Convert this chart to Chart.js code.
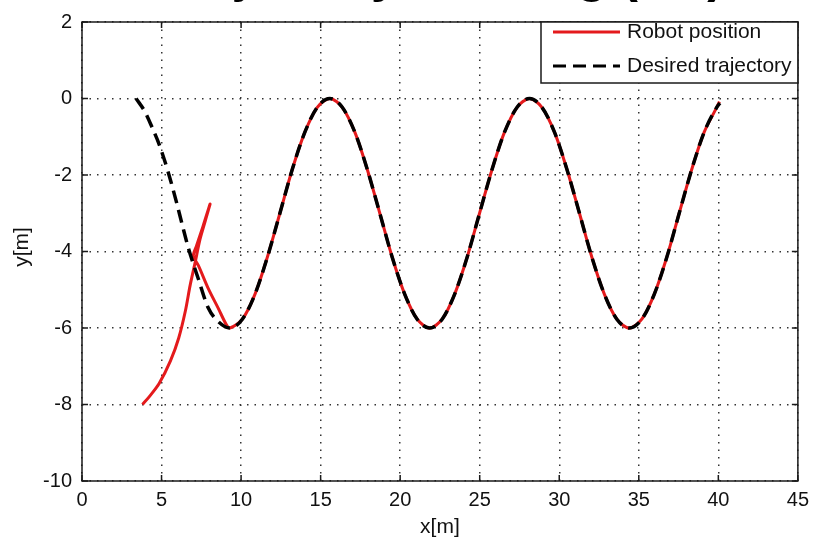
<!DOCTYPE html>
<html>
<head>
<meta charset="utf-8">
<script src="https://cdn.jsdelivr.net/npm/chart.js@4"></script>
<style>
  body { margin: 0; background: #fff; }
</style>
</head>
<body>
<canvas id="chart" width="816" height="540"></canvas>
<script>
const titleText = 'Trajectory tracking (PD)';
const xTicks = [0, 5, 10, 15, 20, 25, 30, 35, 40, 45];
const yTicks = [-10, -8, -6, -4, -2, 0, 2];

// desired trajectory (black dashed)
const desiredX = [3.4, 3.95, 4.42, 4.85, 5.4, 5.9, 6.3, 6.7, 7.3, 7.94, 8.56, 9.3,
  10.08, 10.87, 11.65, 12.44, 13.22, 14.01, 14.79, 15.58, 16.36, 17.15, 17.93, 18.72,
  19.5, 20.29, 21.07, 21.85, 22.64, 23.42, 24.21, 24.99, 25.78, 26.56, 27.35, 28.13,
  28.91, 29.7, 30.48, 31.27, 32.05, 32.84, 33.62, 34.4, 35.19, 35.97, 36.76, 37.54,
  38.33, 39.11, 39.9, 40.1];
const desiredY = [0, -0.34, -0.77, -1.2, -1.9, -2.65, -3.3, -3.93, -4.7, -5.48, -5.83, -6,
  -5.77, -5.12, -4.15, -3, -1.85, -0.88, -0.23, 0, -0.23, -0.88, -1.85, -3,
  -4.15, -5.12, -5.77, -6, -5.77, -5.12, -4.15, -3, -1.85, -0.88, -0.23, 0,
  -0.23, -0.88, -1.85, -3, -4.15, -5.12, -5.77, -6, -5.77, -5.12, -4.15, -3,
  -1.85, -0.88, -0.23, -0.12];

// robot position (red solid)
const robotX = [3.8, 4.22, 4.84, 5.56, 6.08, 6.49, 6.8, 7.11, 7.42, 7.75, 8.05, 7.6,
  7.2, 7.0, 7.32, 7.94, 8.56, 9.07, 9.3,
  10.08, 10.87, 11.65, 12.44, 13.22, 14.01, 14.79, 15.58, 16.36, 17.15, 17.93, 18.72,
  19.5, 20.29, 21.07, 21.85, 22.64, 23.42, 24.21, 24.99, 25.78, 26.56, 27.35, 28.13,
  28.91, 29.7, 30.48, 31.27, 32.05, 32.84, 33.62, 34.4, 35.19, 35.97, 36.76, 37.54,
  38.33, 39.11, 39.9, 40.07];
const robotY = [-8.0, -7.8, -7.46, -6.86, -6.26, -5.57, -4.88, -4.29, -3.68, -3.2, -2.76, -3.35,
  -3.85, -4.12, -4.37, -4.97, -5.48, -5.91, -6.0,
  -5.77, -5.12, -4.15, -3, -1.85, -0.88, -0.23, 0, -0.23, -0.88, -1.85, -3,
  -4.15, -5.12, -5.77, -6, -5.77, -5.12, -4.15, -3, -1.85, -0.88, -0.23, 0,
  -0.23, -0.88, -1.85, -3, -4.15, -5.12, -5.77, -6, -5.77, -5.12, -4.15, -3,
  -1.85, -0.88, -0.23, -0.08];

const FONT = 'Liberation Sans, Arial, sans-serif';

function toPoints(xs, ys) {
  return xs.map((x, i) => ({ x: x, y: ys[i] }));
}

// matlab style box, inward ticks, legend and labels
const matlabAxes = {
  id: 'matlabAxes',
  afterDatasetsDraw(chart) {
    const ctx = chart.ctx;
    const a = chart.chartArea;
    const xs = chart.scales.x;
    const ys = chart.scales.y;
    const len = 6;
    ctx.save();
    ctx.strokeStyle = '#1a1a1a';
    ctx.lineWidth = 1.5;
    ctx.strokeRect(a.left, a.top, a.right - a.left, a.bottom - a.top);
    ctx.beginPath();
    xTicks.forEach(v => {
      const px = xs.getPixelForValue(v);
      ctx.moveTo(px, a.bottom); ctx.lineTo(px, a.bottom - len);
      ctx.moveTo(px, a.top); ctx.lineTo(px, a.top + len);
    });
    yTicks.forEach(v => {
      const py = ys.getPixelForValue(v);
      ctx.moveTo(a.left, py); ctx.lineTo(a.left + len, py);
      ctx.moveTo(a.right, py); ctx.lineTo(a.right - len, py);
    });
    ctx.stroke();
    ctx.restore();
  },
  afterDraw(chart) {
    const ctx = chart.ctx;
    const a = chart.chartArea;
    ctx.save();

    // legend box in the top right corner
    const boxL = 541, boxT = a.top, boxR = a.right, boxB = 83;
    ctx.fillStyle = '#fff';
    ctx.fillRect(boxL, boxT, boxR - boxL, boxB - boxT);
    ctx.strokeStyle = '#1a1a1a';
    ctx.lineWidth = 1.5;
    ctx.strokeRect(boxL, boxT, boxR - boxL, boxB - boxT);

    const rows = [32, 66];
    chart.data.datasets.forEach((ds, i) => {
      const y = rows[i];
      ctx.beginPath();
      ctx.strokeStyle = ds.borderColor;
      ctx.lineWidth = 3;
      ctx.setLineDash(ds.borderDash || []);
      ctx.moveTo(553, y);
      ctx.lineTo(620, y);
      ctx.stroke();
      ctx.setLineDash([]);
      ctx.fillStyle = '#111';
      ctx.font = '21px ' + FONT;
      ctx.textAlign = 'left';
      ctx.textBaseline = 'middle';
      ctx.fillText(ds.label, 627, y);
    });

    // axis labels
    ctx.fillStyle = '#111';
    ctx.font = '21px ' + FONT;
    ctx.textAlign = 'center';
    ctx.textBaseline = 'middle';
    ctx.fillText('x[m]', (a.left + a.right) / 2, 527);
    ctx.translate(22, 247);
    ctx.rotate(-Math.PI / 2);
    ctx.fillText('y[m]', 0, 0);
    ctx.setTransform(1, 0, 0, 1, 0, 0);

    // title, mostly cut off by the top edge
    ctx.fillStyle = '#000';
    ctx.font = 'bold 50px ' + FONT;
    ctx.textAlign = 'center';
    ctx.textBaseline = 'alphabetic';
    ctx.fillText(titleText, (a.left + a.right) / 2 + 2, -8);
    ctx.restore();
  }
};

const ctx = document.getElementById('chart').getContext('2d');
new Chart(ctx, {
  type: 'scatter',
  data: {
    datasets: [{
      label: 'Robot position',
      data: toPoints(robotX, robotY),
      showLine: true,
      borderColor: '#e41a1c',
      borderWidth: 3,
      pointRadius: 0,
      tension: 0.3,
      order: 2
    }, {
      label: 'Desired trajectory',
      data: toPoints(desiredX, desiredY),
      showLine: true,
      borderColor: '#000',
      borderWidth: 3.5,
      borderDash: [13, 7],
      pointRadius: 0,
      cubicInterpolationMode: 'monotone',
      order: 1
    }]
  },
  options: {
    responsive: false,
    animation: false,
    layout: { padding: { top: 14, right: 8, left: 0, bottom: 0 } },
    plugins: {
      legend: { display: false },
      tooltip: { enabled: false }
    },
    scales: {
      x: {
        type: 'linear',
        min: 0,
        max: 45,
        afterBuildTicks: scale => { scale.ticks = xTicks.map(v => ({ value: v })); },
        afterFit: scale => { scale.height = 59; },
        ticks: { color: '#111', font: { family: FONT, size: 20 }, padding: 7, maxRotation: 0 },
        grid: { color: '#333', lineWidth: 1.5, drawTicks: false },
        border: { display: false, dash: [1.5, 6] }
      },
      y: {
        type: 'linear',
        min: -10,
        max: 2,
        afterBuildTicks: scale => { scale.ticks = yTicks.map(v => ({ value: v })); },
        afterFit: scale => { scale.width = 82; },
        ticks: { color: '#111', font: { family: FONT, size: 20 }, padding: 10 },
        grid: { color: '#333', lineWidth: 1.5, drawTicks: false },
        border: { display: false, dash: [1.5, 6] }
      }
    }
  },
  plugins: [matlabAxes]
});
</script>
</body>
</html>
